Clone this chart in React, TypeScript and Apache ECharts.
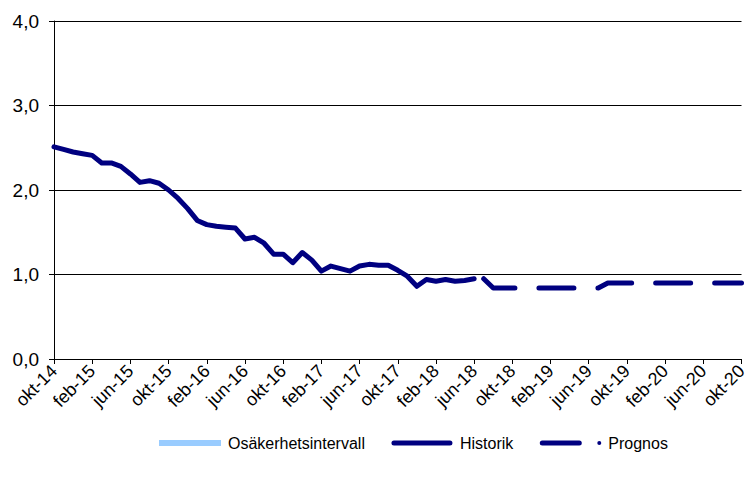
import React, { useEffect, useRef } from "react";
import * as echarts from "echarts";

// Monthly categories okt-14 .. okt-20
const monthNames = ["jan", "feb", "mar", "apr", "maj", "jun", "jul", "aug", "sep", "okt", "nov", "dec"];
const categories: string[] = [];
for (let i = 0; i <= 72; i++) {
  const m = (9 + i) % 12;
  const y = 14 + Math.floor((9 + i) / 12);
  categories.push(`${monthNames[m]}-${y}`);
}

// Historik: okt-14 .. jun-18
const historikValues = [
  2.51, 2.48, 2.45, 2.43, 2.41, 2.32, 2.32, 2.28, 2.19, 2.09, 2.11, 2.08,
  2.0, 1.9, 1.78, 1.64, 1.59, 1.57, 1.56, 1.55, 1.42, 1.44, 1.37, 1.24,
  1.24, 1.14, 1.26, 1.17, 1.04, 1.1, 1.07, 1.04, 1.1, 1.12, 1.11, 1.11,
  1.05, 0.98, 0.86, 0.94, 0.92, 0.94, 0.92, 0.93, 0.95,
];

// Prognos: jul-18 .. okt-20
const prognosStart = 45;
const prognosValues = [
  0.95, 0.84, 0.84, 0.84, 0.84, 0.84, 0.84, 0.84, 0.84, 0.84, 0.84, 0.84,
  0.84, 0.9, 0.9, 0.9, 0.9, 0.9, 0.9, 0.9, 0.9, 0.9, 0.9, 0.9, 0.9, 0.9,
  0.9, 0.9,
];

const yTicks = [0, 1, 2, 3, 4];

const FONT = '"Liberation Sans", Arial, sans-serif';
const NAVY = "#000080";

export default function App() {
  const ref = useRef<HTMLDivElement>(null);
  useEffect(() => {
    if (!ref.current) return;
    const chart = echarts.init(ref.current, undefined, { renderer: "svg" });
    const prognosData: (number | null)[] = categories.map(() => null);
    prognosValues.forEach((v, i) => (prognosData[prognosStart + i] = v));

    chart.setOption({
      animation: false,
      backgroundColor: "#ffffff",
      textStyle: { fontFamily: FONT },
      grid: { left: 54, right: 7, top: 21, bottom: 118, containLabel: false },
      legend: {
        left: 154,
        top: 430,
        itemWidth: 62,
        itemHeight: 6,
        itemGap: 26,
        symbolKeepAspect: true,
        itemStyle: { borderWidth: 0 },
        textStyle: { fontSize: 16, color: "#000", fontFamily: FONT, padding: [0, 0, 0, 2] },
        data: [
          { name: "Osäkerhetsintervall", icon: "rect" },
          { name: "Historik", icon: "path://M3,0.5H59A2.5,2.5 0 0 1 59,5.5H3A2.5,2.5 0 0 1 3,0.5ZM0,0H0.01V6H0ZM62,0H61.99V6H62Z" },
          { name: "Prognos", icon: "path://M3,0.5H40A2.5,2.5 0 0 1 40,5.5H3A2.5,2.5 0 0 1 3,0.5ZM60,1A2,2 0 1 1 60,5A2,2 0 1 1 60,1ZM0,0H0.01V6H0ZM62,0H61.99V6H62Z" },
        ],
      },
      xAxis: {
        type: "category",
        data: categories,
        boundaryGap: false,
        axisLine: { lineStyle: { color: "#000", width: 1 } },
        axisTick: { interval: 3, length: 5, lineStyle: { color: "#000" } },
        axisLabel: {
          interval: 3,
          rotate: 45,
          margin: 9,
          fontSize: 18,
          color: "#000",
          fontFamily: FONT,
        },
        splitLine: { show: false },
      },
      yAxis: {
        type: "value",
        min: yTicks[0],
        max: yTicks[yTicks.length - 1],
        interval: 1,
        axisLine: { show: true, lineStyle: { color: "#000", width: 1 } },
        axisTick: { show: true, length: 5, lineStyle: { color: "#000" } },
        axisLabel: {
          margin: 15,
          fontSize: 19,
          color: "#000",
          fontFamily: FONT,
          formatter: (v: number) => v.toFixed(1).replace(".", ","),
        },
        splitLine: { show: true, lineStyle: { color: "#000", width: 1 } },
      },
      series: [
        {
          name: "Osäkerhetsintervall",
          type: "line",
          data: [],
          color: "#99CCFF",
          symbol: "none",
        },
        {
          name: "Historik",
          type: "line",
          data: historikValues,
          color: NAVY,
          symbol: "none",
          lineStyle: { width: 5, color: NAVY, cap: "round", join: "round" },
        },
        {
          name: "Prognos",
          type: "line",
          data: prognosData,
          color: NAVY,
          symbol: "none",
          lineStyle: { width: 5, color: NAVY, type: [35, 24], cap: "round", join: "round" },
        },
      ],
    });
    return () => chart.dispose();
  }, []);
  return (
    <div
      ref={ref}
      style={{ position: "absolute", left: 0, top: 0, width: 750, height: 477 }}
    />
  );
}
